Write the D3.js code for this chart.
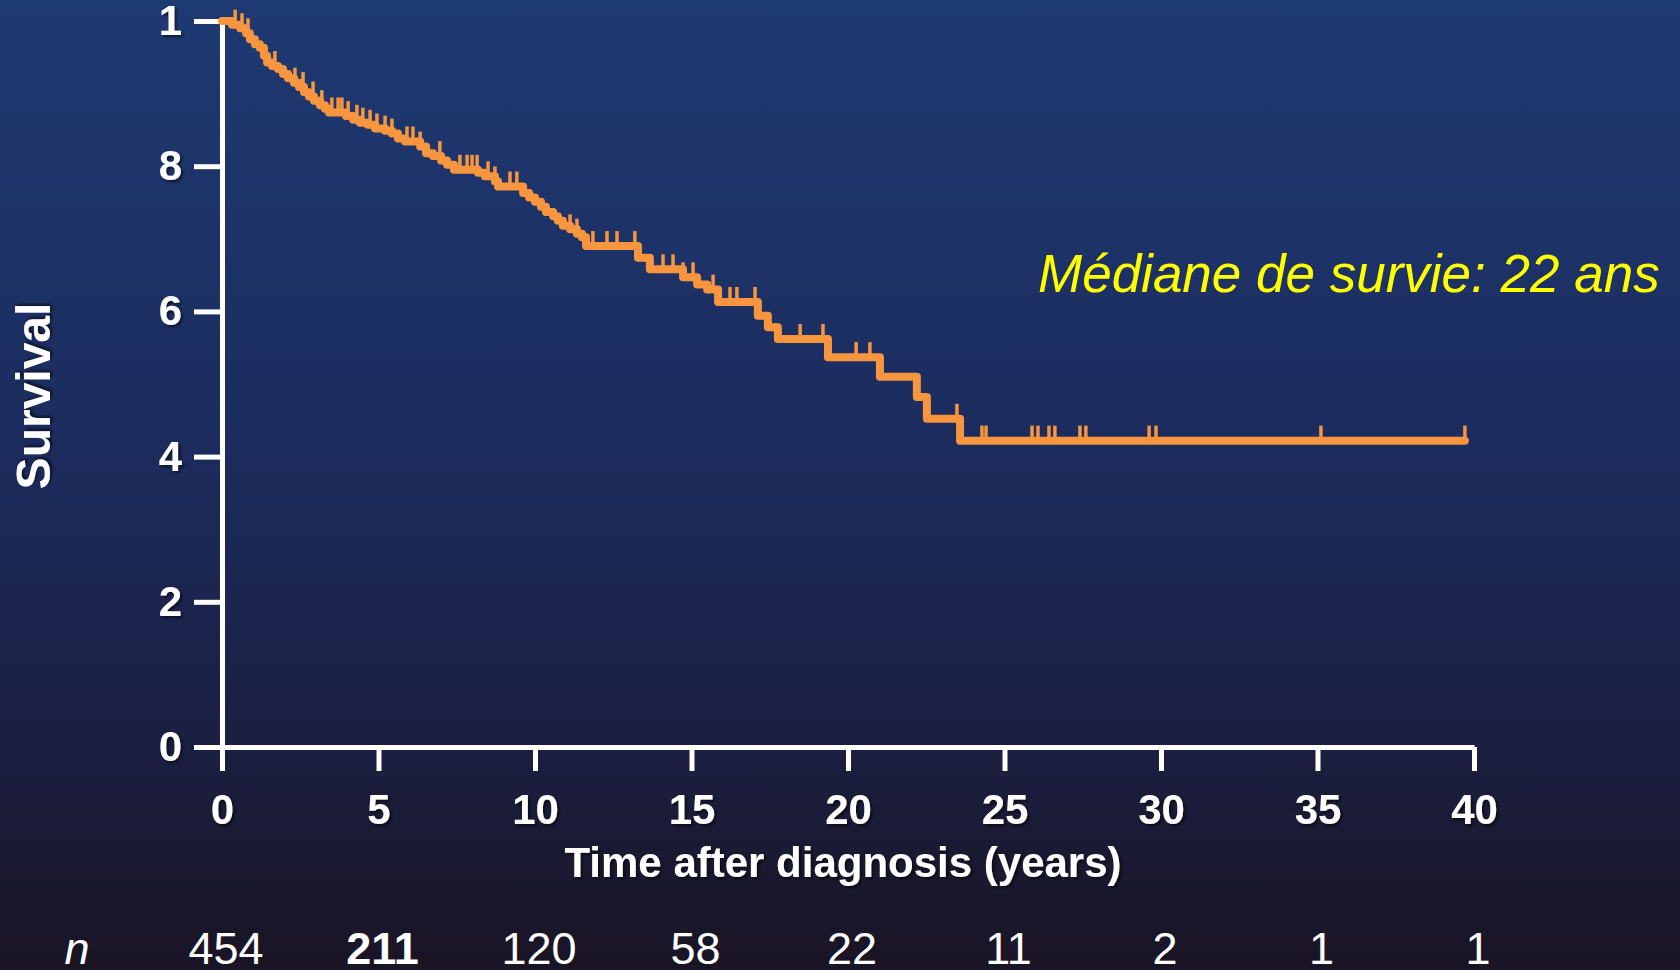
<!DOCTYPE html>
<html>
<head>
<script src="https://d3js.org/d3.v7.min.js"></script>
<style>
  html, body { margin: 0; padding: 0; background: #1a1424; }
  svg { display: block; }
  .axis path, .axis line { stroke: #ffffff; stroke-width: 5px; }
  .axis text {
    fill: #ffffff;
    font-family: "Liberation Sans", Arial, sans-serif;
    font-weight: bold;
    font-size: 42px;
  }
  .label {
    fill: #ffffff;
    font-family: "Liberation Sans", Arial, sans-serif;
  }
  .km { fill: none; stroke: #f7963f; stroke-width: 8px; stroke-linejoin: round; stroke-linecap: round; }
  .censor { stroke: #f7963f; stroke-width: 3.5px; }
</style>
</head>
<body>
<script>
// Kaplan-Meier curve: drop times (years) and survival after each drop
var stepTimes = [0, 0.32, 0.58, 0.77, 0.89, 1.05, 1.21, 1.34, 1.44, 1.60, 1.79, 1.95, 2.11, 2.30, 2.46, 2.62,
  2.78, 2.94, 3.13, 3.29, 3.42, 3.96, 4.19, 4.41, 4.66, 4.89, 5.21, 5.43, 5.62, 5.85, 6.33, 6.52,
  6.74, 7.00, 7.19, 7.41, 8.18, 8.40, 8.72, 8.82, 9.62, 9.81, 10.0, 10.19, 10.35, 10.58, 10.73,
  10.89, 11.12, 11.34, 11.50, 11.63, 13.29, 13.67, 14.73, 15.18, 15.50, 15.85, 17.12, 17.44,
  17.76, 19.36, 21.02, 22.20, 22.52, 23.58];
var stepSurv = [1.0, 0.995, 0.99, 0.983, 0.975, 0.968, 0.963, 0.952, 0.943, 0.938, 0.934, 0.927, 0.921, 0.915, 0.909, 0.902,
  0.896, 0.890, 0.884, 0.879, 0.874, 0.869, 0.864, 0.860, 0.857, 0.852, 0.849, 0.845, 0.838, 0.834, 0.827, 0.818,
  0.814, 0.808, 0.802, 0.795, 0.791, 0.786, 0.779, 0.772, 0.763, 0.757, 0.751, 0.744, 0.737, 0.731, 0.725,
  0.718, 0.713, 0.707, 0.702, 0.690, 0.674, 0.658, 0.647, 0.637, 0.630, 0.613, 0.594, 0.578,
  0.562, 0.537, 0.510, 0.482, 0.452, 0.422];
var lastTime = 39.71;

// censored observations (years)
var censorTimes = [0.42, 0.64, 0.83, 1.69, 2.33, 2.59, 2.91, 3.19, 3.51, 3.71, 3.83, 4.03, 4.31, 4.50, 4.73,
  4.95, 5.21, 5.43, 5.91, 6.10, 6.33, 6.96, 7.60, 7.83, 7.99, 8.15, 8.50, 8.72, 9.20, 9.42, 11.12,
  11.34, 11.85, 12.30, 12.62, 13.19, 14.09, 14.41, 14.73, 15.05, 15.69, 16.23, 16.45, 17.03, 18.47,
  19.20, 20.26, 20.70, 23.48, 24.28, 24.41, 25.88, 26.07, 26.42, 26.61, 27.41, 27.60, 29.62, 29.84,
  35.11, 39.71];

var xTicks = [0, 5, 10, 15, 20, 25, 30, 35, 40];
var yTicks = [0, 0.2, 0.4, 0.6, 0.8, 1.0];
var yTickLabels = ["0", "2", "4", "6", "8", "1"];
var atRisk = ["454", "211", "120", "58", "22", "11", "2", "1", "1"];

var W = 1680, H = 970;

var svg = d3.select("body").append("svg")
    .attr("width", W)
    .attr("height", H);

var defs = svg.append("defs");
var grad = defs.append("linearGradient")
    .attr("id", "bg").attr("x1", 0).attr("y1", 0).attr("x2", 0).attr("y2", 1);
grad.append("stop").attr("offset", "0%").attr("stop-color", "#1e3a72");
grad.append("stop").attr("offset", "45%").attr("stop-color", "#1c2c5e");
grad.append("stop").attr("offset", "75%").attr("stop-color", "#1b2043");
grad.append("stop").attr("offset", "100%").attr("stop-color", "#1a1424");

var shadow = defs.append("filter").attr("id", "shadow")
    .attr("x", "-20%").attr("y", "-20%").attr("width", "140%").attr("height", "140%");
shadow.append("feDropShadow")
    .attr("dx", 2).attr("dy", 2).attr("stdDeviation", 1.5)
    .attr("flood-color", "#000").attr("flood-opacity", 0.6);

svg.append("rect").attr("width", W).attr("height", H).attr("fill", "url(#bg)");

var x = d3.scaleLinear().domain([0, 40]).range([222, 1474]);
var y = d3.scaleLinear().domain([0, 1]).range([747, 21]);

// axes
var xAxis = d3.axisBottom(x).tickValues(xTicks).tickSize(24).tickSizeOuter(0).tickPadding(23);
var yAxis = d3.axisLeft(y).tickValues(yTicks).tickSize(28).tickSizeOuter(0).tickPadding(12)
    .tickFormat(function(d, i) { return yTickLabels[i]; });

var gx = svg.append("g").attr("class", "x axis")
    .attr("transform", "translate(0," + y(0) + ")")
    .call(xAxis);
gx.selectAll("text").attr("filter", "url(#shadow)");

var gy = svg.append("g").attr("class", "y axis")
    .attr("transform", "translate(" + x(0) + ",0)")
    .call(yAxis);
gy.selectAll("text").attr("filter", "url(#shadow)");

// survival curve
var pts = stepTimes.map(function(t, i) { return [t, stepSurv[i]]; });
pts.push([lastTime, stepSurv[stepSurv.length - 1]]);

var line = d3.line()
    .curve(d3.curveStepAfter)
    .x(function(d) { return x(d[0]); })
    .y(function(d) { return y(d[1]); });

svg.append("path").attr("class", "km").attr("d", line(pts));

function survAt(t) {
  var s = stepSurv[0];
  for (var i = 0; i < stepTimes.length; i++) {
    if (stepTimes[i] <= t) s = stepSurv[i];
  }
  return s;
}

svg.selectAll("line.censor")
    .data(censorTimes)
    .enter().append("line")
    .attr("class", "censor")
    .attr("x1", function(d) { return x(d); })
    .attr("x2", function(d) { return x(d); })
    .attr("y1", function(d) { return y(survAt(d)); })
    .attr("y2", function(d) { return y(survAt(d)) - 15; });

// titles
svg.append("text").attr("class", "label")
    .attr("transform", "translate(50,396) rotate(-90)")
    .attr("text-anchor", "middle")
    .style("font-size", "48px").style("font-weight", "bold")
    .attr("filter", "url(#shadow)")
    .text("Survival");

svg.append("text").attr("class", "label")
    .attr("x", 843).attr("y", 877)
    .attr("text-anchor", "middle")
    .style("font-size", "42px").style("font-weight", "bold")
    .attr("filter", "url(#shadow)")
    .text("Time after diagnosis (years)");

svg.append("text")
    .attr("x", 1038).attr("y", 292)
    .style("font-family", "'Liberation Sans', Arial, sans-serif")
    .style("font-size", "53px").style("font-style", "italic")
    .attr("fill", "#ffff00")
    .text("Médiane de survie: 22 ans");

// number at risk
svg.append("text").attr("class", "label")
    .attr("x", 77).attr("y", 964)
    .attr("text-anchor", "middle")
    .style("font-size", "45px").style("font-style", "italic")
    .text("n");

svg.selectAll("text.risk")
    .data(atRisk)
    .enter().append("text")
    .attr("class", "label risk")
    .attr("x", function(d, i) { return x(xTicks[i]) + 4; })
    .attr("y", 964)
    .attr("text-anchor", "middle")
    .style("font-size", "45px")
    .style("font-weight", function(d, i) { return i === 1 ? "bold" : "normal"; })
    .text(function(d) { return d; });
</script>
</body>
</html>
